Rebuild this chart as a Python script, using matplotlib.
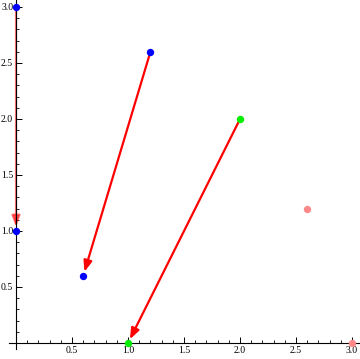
import numpy as np
import matplotlib
matplotlib.use("Agg")
import matplotlib.pyplot as plt

# points
blue_x = [0.0, 1.2, 0.6, 0.0]
blue_y = [3.0, 2.6, 0.6, 1.0]
green_x = [2.0, 1.0]
green_y = [2.0, 0.0]
pink_x = [2.6, 3.0]
pink_y = [1.2, 0.0]

# arrows (start -> end)
arrow_start = [(1.2, 2.6), (2.0, 2.0), (0.0, 3.0)]
arrow_end = [(0.6, 0.6), (1.0, 0.0), (0.0, 1.0)]
arrow_alpha = [1.0, 1.0, 0.55]

ticks = [0.5, 1.0, 1.5, 2.0, 2.5, 3.0]
tick_labels = ["0.5", "1.0", "1.5", "2.0", "2.5", "3.0"]
minor = [i / 10 for i in range(1, 31) if i % 5]

fig = plt.figure(figsize=(3.6, 3.59), dpi=100)
ax = fig.add_axes([0, 0, 1, 1])
ax.set_xlim(-0.143, 3.071)
ax.set_ylim(-0.143, 3.0625)

for s in ["top", "right"]:
    ax.spines[s].set_visible(False)
ax.spines["left"].set_position(("data", 0))
ax.spines["bottom"].set_position(("data", 0))
ax.spines["bottom"].set_bounds(-0.063, 3.071)
ax.spines["left"].set_bounds(-0.055, 3.0625)
for s in ["left", "bottom"]:
    ax.spines[s].set_linewidth(0.8)
    ax.spines[s].set_zorder(2.5)

ax.set_xticks(ticks)
ax.set_yticks(ticks)
ax.set_xticks(minor, minor=True)
ax.set_yticks(minor, minor=True)
ax.set_xticklabels(tick_labels, family="Liberation Serif")
ax.set_yticklabels(tick_labels, family="Liberation Serif")
ax.tick_params(which="major", direction="in", length=4, width=0.7, labelsize=7, pad=2)
ax.tick_params(which="minor", direction="in", length=2.2, width=0.6)

for (x0, y0), (x1, y1), a in zip(arrow_start, arrow_end, arrow_alpha):
    ax.annotate("", xy=(x1, y1), xytext=(x0, y0),
                arrowprops=dict(arrowstyle="-|>,head_length=0.65,head_width=0.25",
                                color="red", lw=1.6, alpha=a,
                                mutation_scale=10, shrinkA=0, shrinkB=3),
                zorder=2)

ax.plot(blue_x, blue_y, "o", color="#0000ff", ms=5.3, mec="none", zorder=3, clip_on=False)
ax.plot(green_x, green_y, "o", color="#00ee00", ms=5.3, mec="none", zorder=3, clip_on=False)
ax.plot(pink_x, pink_y, "o", color="#ff8888", ms=5.3, mec="none", zorder=3, clip_on=False)

fig.savefig("out.png", dpi=100)
